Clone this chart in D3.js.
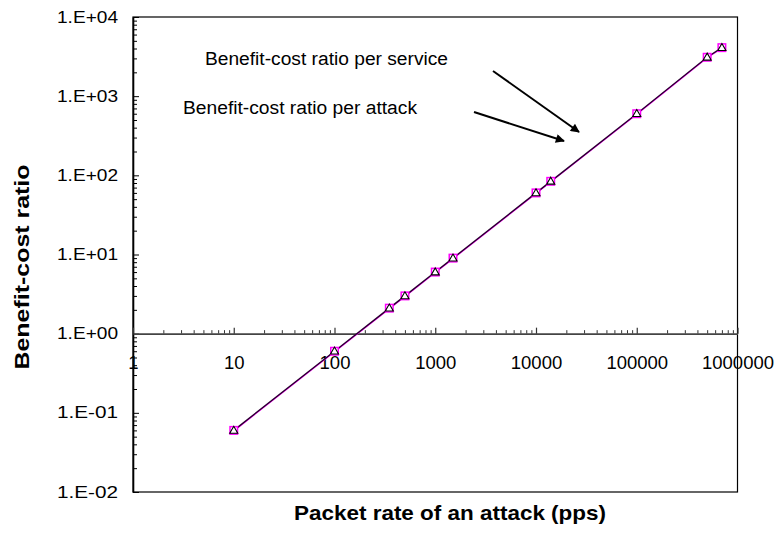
<!DOCTYPE html>
<html>
<head>
<meta charset="utf-8">
<script src="https://cdn.jsdelivr.net/npm/d3@7"></script>
<style>
  html, body { margin: 0; padding: 0; background: #fff; }
  svg { display: block; font-family: Arial, "Liberation Sans", sans-serif; }
</style>
</head>
<body>
<svg id="chart" width="774" height="533"></svg>
<script>
// Packet rate of an attack (pps)
const packetRates = [10, 100, 350, 500, 1000, 1500, 10000, 14000, 100000, 500000, 700000];
// Benefit-cost ratio per attack (magenta squares)
const ratioPerAttack = [0.06, 0.6, 2.1, 3, 6, 9, 60, 84, 600, 3100, 4100];
// Benefit-cost ratio per service (black triangles)
const ratioPerService = [0.06, 0.6, 2.1, 3, 6, 9, 60, 84, 600, 3100, 4100];

const xTickValues = [1, 10, 100, 1000, 10000, 100000, 1000000];
const xTickLabels = ["1", "10", "100", "1000", "10000", "100000", "1000000"];
const yTickValues = [0.01, 0.1, 1, 10, 100, 1000, 10000];
const yTickLabels = ["1.E-02", "1.E-01", "1.E+00", "1.E+01", "1.E+02", "1.E+03", "1.E+04"];

const annotations = [
  { text: "Benefit-cost ratio per service" },
  { text: "Benefit-cost ratio per attack" }
];

const svg = d3.select("#chart");
const plot = { left: 133, top: 17, right: 737.5, bottom: 492 };

const x = d3.scaleLog().domain([1, 1000000]).range([plot.left, plot.right]);
const y = d3.scaleLog().domain([0.01, 10000]).range([plot.bottom, plot.top]);

// minor tick positions (2..9 within each decade)
function minorTicks(lo, hi) {
  const out = [];
  for (let d = lo; d < hi; d *= 10) for (let m = 2; m <= 9; m++) out.push(d * m);
  return out;
}

// Plot frame
svg.append("rect")
  .attr("x", plot.left).attr("y", plot.top)
  .attr("width", plot.right - plot.left).attr("height", plot.bottom - plot.top)
  .attr("fill", "#fff").attr("stroke", "#000").attr("stroke-width", 1.2);

// Y axis (left edge) with inward ticks
const yMinor = d3.axisLeft(y).tickValues(minorTicks(0.01, 10000)).tickSizeInner(-4).tickSizeOuter(0).tickFormat("");
const yMajor = d3.axisLeft(y).tickValues(yTickValues).tickSizeInner(-6).tickSizeOuter(0).tickPadding(15)
  .tickFormat((d, i) => yTickLabels[i]);

svg.append("g").attr("transform", `translate(${plot.left},0)`).call(yMinor)
  .call(g => g.select(".domain").remove())
  .call(g => g.selectAll("line").attr("stroke", "#000").attr("stroke-width", 1));
const gy = svg.append("g").attr("transform", `translate(${plot.left},0)`).call(yMajor);
gy.select(".domain").attr("stroke", "#000").attr("stroke-width", 1.6);
gy.selectAll("line").attr("stroke", "#000").attr("stroke-width", 1);
gy.selectAll("text")
  .attr("font-size", 16).attr("fill", "#000").attr("font-family", "Arial, 'Liberation Sans', sans-serif")
  .attr("textLength", 61).attr("lengthAdjust", "spacingAndGlyphs");

// X axis crossing at ratio = 1, ticks pointing up, labels below
const xAxisY = y(1);
const xMinor = d3.axisBottom(x).tickValues(minorTicks(1, 1000000)).tickSizeInner(-3.5).tickSizeOuter(0).tickFormat("");
const xMajor = d3.axisBottom(x).tickValues(xTickValues).tickSizeInner(-6).tickSizeOuter(0).tickPadding(22)
  .tickFormat((d, i) => xTickLabels[i]);

svg.append("g").attr("transform", `translate(0,${xAxisY})`).call(xMinor)
  .call(g => g.select(".domain").remove())
  .call(g => g.selectAll("line").attr("stroke", "#333").attr("stroke-width", 1));
const gx = svg.append("g").attr("transform", `translate(0,${xAxisY})`).call(xMajor);
gx.select(".domain").attr("stroke", "#444").attr("stroke-width", 1.6);
gx.selectAll("line").attr("stroke", "#333").attr("stroke-width", 1.2);
gx.selectAll("text")
  .attr("font-size", 18.5).attr("fill", "#000").attr("font-family", "Arial, 'Liberation Sans', sans-serif");

// Series lines
const attackPts = packetRates.map((p, i) => [p, ratioPerAttack[i]]);
const servicePts = packetRates.map((p, i) => [p, ratioPerService[i]]);
const line = d3.line().x(d => x(d[0])).y(d => y(d[1]));

svg.append("path").datum(attackPts).attr("d", line)
  .attr("fill", "none").attr("stroke", "#ff00ff").attr("stroke-width", 1.2)
  .attr("transform", "translate(0.4,0.3)");
svg.append("path").datum(servicePts).attr("d", line)
  .attr("fill", "none").attr("stroke", "#2a0030").attr("stroke-width", 1.4);

// Square markers (per attack)
svg.append("g").selectAll("rect").data(attackPts).join("rect")
  .attr("x", d => x(d[0]) - 3.75).attr("y", d => y(d[1]) - 3.75)
  .attr("width", 7.5).attr("height", 7.5)
  .attr("fill", "#fff").attr("stroke", "#ff00ff").attr("stroke-width", 1.5);

// Triangle markers (per service)
const tri = d3.symbol().type(d3.symbolTriangle).size(28);
svg.append("g").selectAll("path").data(servicePts).join("path")
  .attr("d", tri)
  .attr("transform", d => `translate(${x(d[0])},${y(d[1]) + 0.5})`)
  .attr("fill", "none").attr("stroke", "#000").attr("stroke-width", 1.1);

// Annotation texts with arrows
const defs = svg.append("defs");
defs.append("marker").attr("id", "arrow").attr("viewBox", "0 0 10 10")
  .attr("refX", 9).attr("refY", 5).attr("markerWidth", 5.5).attr("markerHeight", 4.5)
  .attr("markerUnits", "strokeWidth").attr("orient", "auto")
  .append("path").attr("d", "M0,0 L10,5 L0,10 Z").attr("fill", "#000");

const annoLayout = [
  { x: 205, y: 65, len: 243, from: [493, 71], to: [579, 132] },
  { x: 183, y: 114, len: 234, from: [474, 112], to: [564, 141] }
];
annotations.forEach((a, i) => {
  const L = annoLayout[i];
  svg.append("text").attr("x", L.x).attr("y", L.y)
    .attr("font-size", 18).attr("fill", "#000")
    .attr("textLength", L.len).attr("lengthAdjust", "spacingAndGlyphs")
    .text(a.text);
  svg.append("line")
    .attr("x1", L.from[0]).attr("y1", L.from[1]).attr("x2", L.to[0]).attr("y2", L.to[1])
    .attr("stroke", "#000").attr("stroke-width", 2).attr("marker-end", "url(#arrow)");
});

// Axis titles
svg.append("text")
  .attr("x", 450).attr("y", 520).attr("text-anchor", "middle")
  .attr("font-size", 21).attr("font-weight", "bold").attr("fill", "#000")
  .attr("textLength", 312).attr("lengthAdjust", "spacingAndGlyphs")
  .text("Packet rate of an attack (pps)");

svg.append("text")
  .attr("transform", "translate(29,267) rotate(-90)")
  .attr("text-anchor", "middle")
  .attr("font-size", 20).attr("font-weight", "bold").attr("fill", "#000")
  .attr("textLength", 205).attr("lengthAdjust", "spacingAndGlyphs")
  .text("Benefit-cost ratio");
</script>
</body>
</html>
